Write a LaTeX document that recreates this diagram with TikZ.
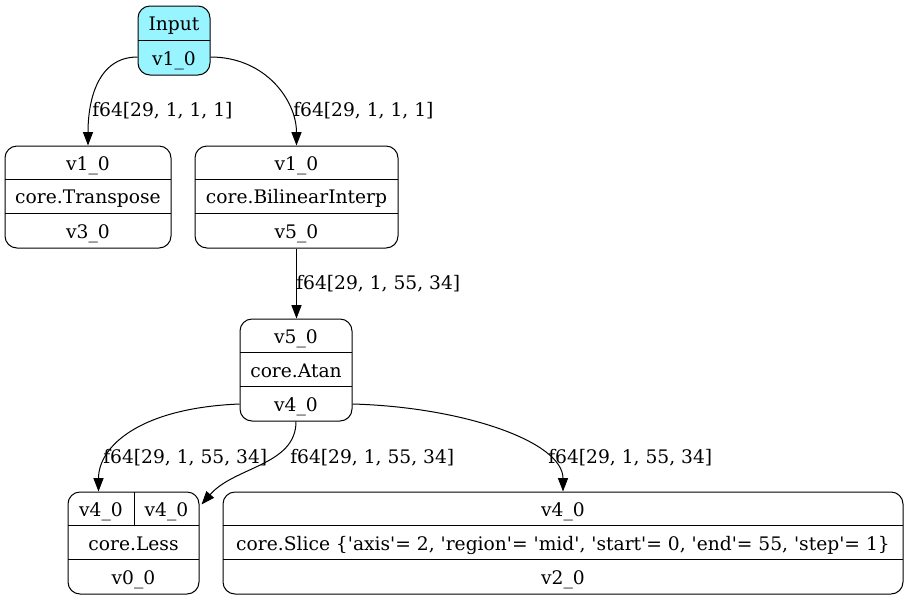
\documentclass[tikz,border=0pt]{standalone}
\usepackage{fontspec}
\setmainfont{DejaVu Serif}
\usetikzlibrary{arrows.meta,calc}
\definecolor{incyan}{HTML}{98F5FF}
\newcommand{\q}{\textquotesingle}
\tikzset{
  box/.style={draw, rounded corners=9pt, line width=0.75pt, inner sep=0pt},
  txt/.style={inner sep=0pt, anchor=base, font=\fontsize{14}{16}\selectfont},
  lbl/.style={inner sep=0pt, anchor=base west, font=\fontsize{14}{16}\selectfont},
  sepline/.style={line width=0.75pt},
  conn/.style={line width=0.75pt, -{Triangle[length=10pt,width=7.5pt]}}
}
\begin{document}
\begin{tikzpicture}[x=0.75pt,y=-0.75pt]
\useasboundingbox (0,0) rectangle (908,601);
% boxes
\node[box, fill=incyan, minimum width=54pt, minimum height=51.75pt] (in) at (174,40.5) {};
\node[box, minimum width=124.5pt, minimum height=76.5pt] (tr) at (88,197) {};
\node[box, minimum width=152.25pt, minimum height=76.5pt] (bi) at (296.5,197) {};
\node[box, minimum width=84pt, minimum height=76.5pt] (at) at (296,370) {};
\node[box, minimum width=98.25pt, minimum height=76.5pt] (ls) at (133.5,543) {};
\node[box, minimum width=510pt, minimum height=76.5pt] (sl) at (563,543) {};
% dividers
\draw[sepline] (138,40) -- (210,40);
\draw[sepline] (5,179.5) -- (171,179.5);
\draw[sepline] (5,213.5) -- (171,213.5);
\draw[sepline] (195,179.5) -- (398,179.5);
\draw[sepline] (195,213.5) -- (398,213.5);
\draw[sepline] (240,352.5) -- (352,352.5);
\draw[sepline] (240,386.5) -- (352,386.5);
\draw[sepline] (68,525.5) -- (199,525.5);
\draw[sepline] (68,559.5) -- (199,559.5);
\draw[sepline] (134,492) -- (134,525.5);
\draw[sepline] (223,525.5) -- (903,525.5);
\draw[sepline] (223,559.5) -- (903,559.5);
% texts
\node[txt] (in1) at (174,30.5) {Input};
\node[txt] (in2) at (174,65) {v1\_0};
\node[txt] (tr1) at (88,170) {v1\_0};
\node[txt] (tr2) at (88,203.5) {core.Transpose};
\node[txt] (tr3) at (88,238) {v3\_0};
\node[txt] (bi1) at (296.5,170) {v1\_0};
\node[txt] (bi2) at (296.5,203.5) {core.BilinearInterp};
\node[txt] (bi3) at (296.5,238) {v5\_0};
\node[txt] (at1) at (296,343.5) {v5\_0};
\node[txt] (at2) at (296,377) {core.Atan};
\node[txt] (at3) at (296,411.5) {v4\_0};
\node[txt] (ls1) at (101,516.5) {v4\_0};
\node[txt] (ls2) at (166.5,516.5) {v4\_0};
\node[txt] (ls3) at (133.5,550.5) {core.Less};
\node[txt] (ls4) at (133.5,584.5) {v0\_0};
\node[txt] (sl1) at (563,516.5) {v4\_0};
\node[txt] (sl2) at (563,550.5) {core.Slice \{\q axis\q= 2, \q region\q= \q mid\q, \q start\q= 0, \q end\q= 55, \q step\q= 1\}};
\node[txt] (sl3) at (563,584.5) {v2\_0};
% connectors
\draw[conn] ($(in.west)+(0,16.5)$) .. controls +(-40,0) and +(0,-45) .. (tr.north);
\node[lbl] (l1) at (92,116) {f64[29, 1, 1, 1]};
\draw[conn] ($(in.east)+(0,16.5)$) .. controls +(55,0) and +(0,-45) .. (bi.north);
\node[lbl] (l2) at (293,116) {f64[29, 1, 1, 1]};
\draw[conn] (bi.south) -- (bi.south |- at.north);
\node[lbl] (l3) at (296,289) {f64[29, 1, 55, 34]};
\draw[conn] ($(at.west)+(0,34)$) .. controls +(-100,4) and +(0,-45) .. ($(ls.north west)+(31,0)$);
\node[lbl] (l4) at (103,463) {f64[29, 1, 55, 34]};
\draw[conn] (at.south) .. controls +(0,44) and +(33,-38) .. ($(ls.north east)+(2,13)$);
\node[lbl] (l5) at (290,463) {f64[29, 1, 55, 34]};
\draw[conn] ($(at.east)+(0,34)$) .. controls +(110,3) and +(0,-50) .. (sl.north);
\node[lbl] (l6) at (548,463) {f64[29, 1, 55, 34]};
\end{tikzpicture}
\end{document}
